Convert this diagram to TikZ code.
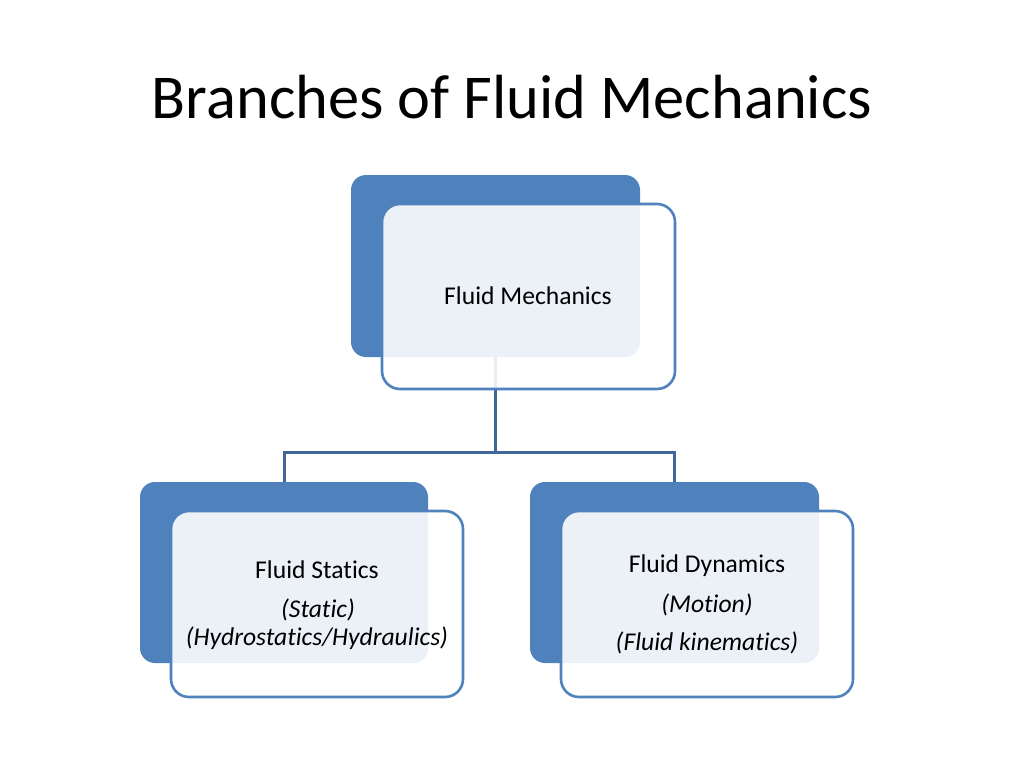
\documentclass[tikz,border=0pt]{standalone}
\usepackage{fontspec}
\setmainfont{Carlito}[Ligatures={NoCommon,NoContextual}]
\definecolor{backblue}{HTML}{4F81BD}
\definecolor{edgeblue}{HTML}{4F81BD}
\definecolor{linkblue}{HTML}{41679A}
\tikzset{
  backbox/.style={rectangle, rounded corners=15pt, fill=backblue, draw=none, inner sep=0pt, outer sep=0pt},
  frontbox/.style={rectangle, rounded corners=18pt, fill=white, fill opacity=0.89, draw=edgeblue, line width=2.6pt, inner sep=0pt, outer sep=0pt, minimum width=292pt, minimum height=186pt},
  link/.style={draw=linkblue, line width=3pt},
  boxtext/.style={font=\fontsize{25.6}{30}\selectfont, anchor=base, inner sep=0pt, text=black},
}
\begin{document}
\begin{tikzpicture}[x=1pt,y=-1pt]
\useasboundingbox[fill=white] (0,0) rectangle (1024,768);
\node[anchor=base, inner sep=0pt, font=\fontsize{62.4}{70}\selectfont] (title) at (512,118) {Branches of Fluid Mechanics};
% back boxes
\node[backbox, minimum width=289pt, minimum height=182pt] (tb) at (495.5,266) {};
\node[backbox, minimum width=288pt, minimum height=181pt] (lb) at (284,572.5) {};
\node[backbox, minimum width=289pt, minimum height=181pt] (rb) at (674.5,572.5) {};
% connectors
\coordinate (j) at (495.5,452);
\draw[link] (tb.south) -- (j);
\draw[link] (j) -| (lb.north);
\draw[link] (j) -| (rb.north);
% front boxes
\node[frontbox, minimum width=293pt, minimum height=185pt] (tf) at (528.5,296.5) {};
\node[frontbox] (lf) at (317,604) {};
\node[frontbox] (rf) at (707,604) {};
% texts
\node[boxtext] (t1) at (528,304) {Fluid Mechanics};
\node[boxtext] (l1) at (317,578) {Fluid Statics};
\node[boxtext] (l2) at (318,617) {\itshape (Static)};
\node[boxtext] (l3) at (317,645) {\itshape (Hydrostatics/Hydraulics)};
\node[boxtext] (r1) at (707,572) {Fluid Dynamics};
\node[boxtext] (r2) at (707,612) {\itshape (Motion)};
\node[boxtext] (r3) at (707,650) {\itshape (Fluid kinematics)};
\end{tikzpicture}
\end{document}
